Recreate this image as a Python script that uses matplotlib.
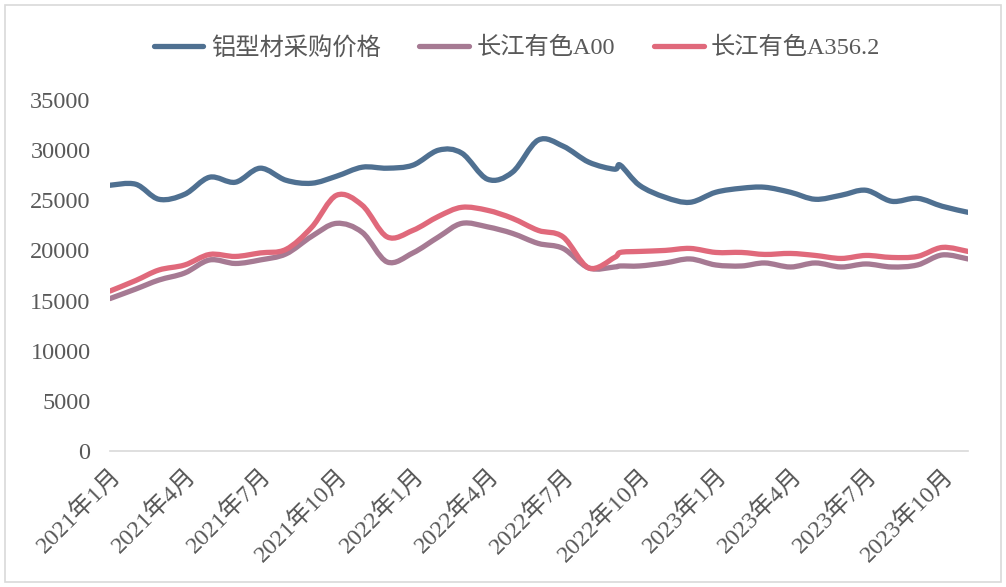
import numpy as np
import pandas as pd
import matplotlib
matplotlib.use("Agg")
import matplotlib.pyplot as plt
import matplotlib.dates as mdates
import matplotlib.transforms as mtransforms
from matplotlib.path import Path
from matplotlib.patches import PathPatch, Rectangle
from matplotlib.lines import Line2D

plt.rcParams['font.family'] = ['Liberation Serif', 'Noto Sans CJK SC', 'DejaVu Sans']

# -------------------------------
# 数据（月度，2022年9月有一个额外的数据点）
dates = list(pd.date_range("2021-01-01", "2023-11-01", freq="MS"))
dates.insert(21, pd.Timestamp("2022-09-08"))

al_profile = [26500, 26600, 25100, 25600, 27300, 26800, 28200, 27000, 26700, 27400,
              28300, 28200, 28500, 30000, 29700, 27100, 27800, 31000, 30400, 28800,
              28100, 28500, 26500, 25300, 24800, 25800, 26200, 26300, 25800, 25100,
              25500, 26000, 24900, 25200, 24400, 23800]
cj_a00 = [15200, 16150, 17050, 17750, 19050, 18700, 19050, 19650, 21400, 22700,
          21800, 18850, 19750, 21350, 22700, 22350, 21700, 20700, 20200, 18250,
          18350, 18450, 18450, 18750, 19150, 18550, 18450, 18750, 18350, 18750,
          18350, 18650, 18350, 18550, 19550, 19150]
cj_a356 = [15950, 17000, 18050, 18550, 19600, 19400, 19750, 20100, 22300, 25500,
           24500, 21350, 22000, 23400, 24300, 24000, 23200, 22000, 21350, 18250,
           19300, 19800, 19900, 20000, 20200, 19800, 19800, 19600, 19700, 19500,
           19200, 19500, 19300, 19400, 20300, 19900]

series_names = ["铝型材采购价格", "长江有色A00", "长江有色A356.2"]
colors = ["#4F7091", "#A67A93", "#E0697B"]

tick_dates = pd.date_range("2021-01-01", "2023-10-01", freq="3MS")
tick_labels = [f"{d.year}年{d.month}月" for d in tick_dates]


# -------------------------------
# 平滑曲线（类似 Excel 的平滑线）
def smooth_path(xs, ys):
    pts = np.column_stack([xs, ys]).astype(float)
    n = len(pts)
    verts = [pts[0]]
    codes = [Path.MOVETO]
    for i in range(n - 1):
        p0 = pts[i - 1] if i > 0 else pts[i]
        p1 = pts[i]
        p2 = pts[i + 1]
        p3 = pts[i + 2] if i + 2 < n else pts[i + 1]
        c1 = p1 + (p2 - p0) / 6
        c2 = p2 - (p3 - p1) / 6
        verts += [c1, c2, p2]
        codes += [Path.CURVE4] * 3
    return Path(verts, codes)


x = mdates.date2num(dates)

fig = plt.figure(figsize=(10.06, 5.87), dpi=100)
ax = fig.add_axes([110 / 1006, 1 - 451 / 587, 858 / 1006, 351 / 587])

for vals, c in zip([al_profile, cj_a00, cj_a356], colors):
    ax.add_patch(PathPatch(smooth_path(x, vals), fill=False, edgecolor=c,
                           lw=3.8, capstyle="round", joinstyle="round"))

ax.set_xlim(x[0], x[-1])
ax.set_ylim(0, 35000)
ax.set_yticks(np.arange(0, 35001, 5000))
ax.set_yticklabels([str(v) for v in range(0, 35001, 5000)])
ax.set_xticks(mdates.date2num(tick_dates))
ax.set_xticklabels(tick_labels, rotation=45, ha="right", va="top", rotation_mode="anchor")

offset = mtransforms.ScaledTranslation(-7 / 100, 3 / 100, fig.dpi_scale_trans)
for lab in ax.get_xticklabels():
    lab.set_transform(lab.get_transform() + offset)

for s in ["top", "right", "left"]:
    ax.spines[s].set_visible(False)
ax.spines["bottom"].set_color("#D9D9D9")
ax.spines["bottom"].set_linewidth(1.2)
ax.tick_params(axis="both", length=0, labelsize=17.5, colors="#595959")
ax.tick_params(axis="y", pad=14)
ax.tick_params(axis="x", pad=10)

# 图例
handles = [Line2D([0], [0], color=c, lw=3.8, solid_capstyle="round") for c in colors]
fig.legend(handles, series_names, loc="center", bbox_to_anchor=(517 / 1006, 1 - 48 / 587),
           ncol=3, frameon=False, fontsize=17.5, labelcolor="#595959",
           handlelength=2.05, handletextpad=0.3, columnspacing=1.6)

# 外框
fig.patches.append(Rectangle((0.005, 0.008), 0.99, 0.984, transform=fig.transFigure,
                             fill=False, edgecolor="#D9D9D9", lw=1.2))

fig.savefig("out.png", dpi=100)
